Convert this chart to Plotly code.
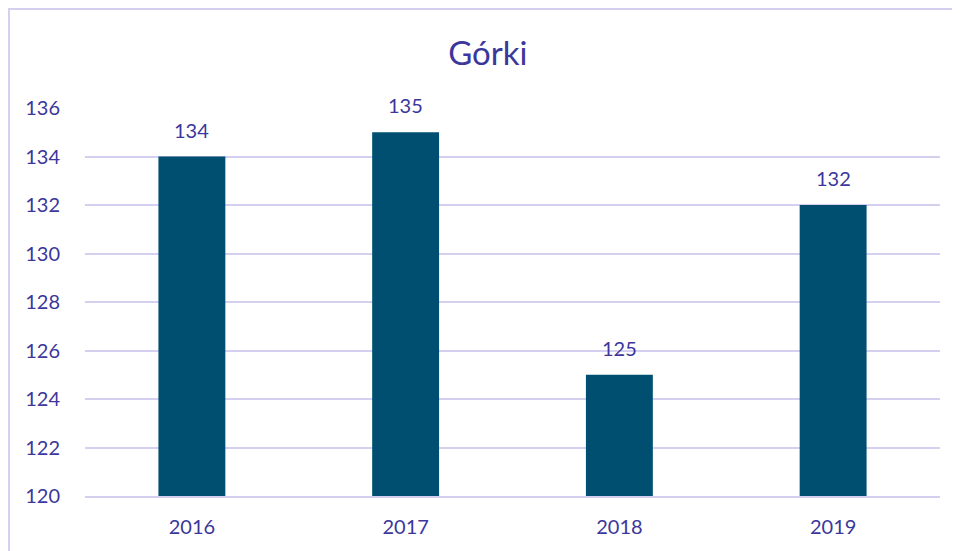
import plotly.graph_objects as go

years = ["2016", "2017", "2018", "2019"]
values = [134, 135, 125, 132]
tick_vals = [120, 122, 124, 126, 128, 130, 132, 134, 136]

TXT = "#3b379c"
GRID = "#d3d0f0"
BAR = "#004f71"
FONT = "Lato, Open Sans, sans-serif"

fig = go.Figure()
fig.add_trace(go.Bar(x=years, y=values, marker=dict(color=BAR, line=dict(width=0)),
                     width=0.313, hoverinfo="x+y"))

# category index positions for the value labels
for i, v in enumerate(values):
    fig.add_annotation(x=i, y=v, text=str(v), showarrow=False, yanchor="bottom",
                       yshift=13, font=dict(family=FONT, size=20, color=TXT))

fig.add_shape(type="rect", xref="paper", yref="paper", x0=-0.0889, x1=1.2,
              y0=-0.5, y1=1.255, line=dict(color=GRID, width=2), layer="below")

fig.update_layout(
    width=952, height=543,
    margin=dict(l=77, r=20, t=100, b=55),
    paper_bgcolor="white", plot_bgcolor="white",
    showlegend=False,
    title=dict(text="Górki", x=0.504, xanchor="center", y=0.917, yanchor="middle",
               font=dict(family=FONT, size=33, color=TXT)),
    font=dict(family=FONT, color=TXT, size=20),
    xaxis=dict(type="category", range=[-0.5, 3.5], showgrid=False, showline=True,
               linecolor=GRID, linewidth=2,
               ticks="outside", ticklen=12, tickcolor="rgba(0,0,0,0)",
               tickfont=dict(size=20, color=TXT)),
    yaxis=dict(range=[120, 136], tickvals=tick_vals, showgrid=True, gridcolor=GRID,
               gridwidth=2, zeroline=False, showline=False,
               ticks="outside", ticklen=20, tickcolor="rgba(0,0,0,0)",
               tickfont=dict(size=20, color=TXT)),
)

fig.write_html("out.html")
